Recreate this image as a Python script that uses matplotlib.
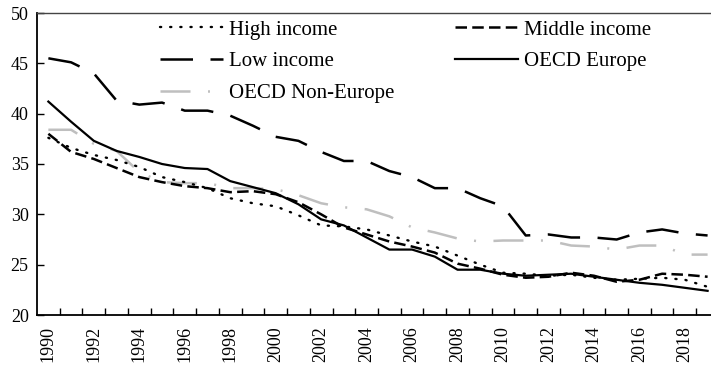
import matplotlib
matplotlib.use("Agg")
import matplotlib.pyplot as plt

plt.rcParams['font.family'] = ['Liberation Serif', 'DejaVu Serif']

years = list(range(1990, 2020))

high_income = [37.6, 36.6, 35.9, 35.4, 34.7, 33.7, 33.2, 32.6, 31.6, 31.1,
               30.8, 29.9, 28.9, 28.8, 28.5, 27.9, 27.3, 26.8, 25.9, 25.0,
               24.2, 24.1, 23.9, 24.0, 23.7, 23.5, 23.6, 23.7, 23.5, 22.8]

middle_income = [38.0, 36.2, 35.5, 34.6, 33.7, 33.2, 32.8, 32.6, 32.2, 32.3,
                 32.0, 31.2, 30.0, 28.7, 28.0, 27.3, 26.8, 26.2, 25.1, 24.6,
                 24.0, 23.7, 23.8, 24.2, 23.9, 23.3, 23.5, 24.1, 24.0, 23.8]

low_income = [45.5, 45.1, 44.0, 41.3, 40.9, 41.1, 40.3, 40.3, 39.8, 38.8,
              37.7, 37.3, 36.2, 35.3, 35.3, 34.3, 33.7, 32.6, 32.6, 31.6,
              30.8, 27.9, 28.0, 27.7, 27.7, 27.5, 28.2, 28.5, 28.1, 27.9]

oecd_europe = [41.2, 39.2, 37.3, 36.3, 35.7, 35.0, 34.6, 34.5, 33.3, 32.7,
               32.1, 31.0, 29.5, 28.9, 27.7, 26.5, 26.5, 25.8, 24.5, 24.5,
               24.1, 23.9, 24.0, 24.1, 23.8, 23.5, 23.2, 23.0, 22.7, 22.4]

oecd_non_europe = [38.4, 38.4, 37.0, 36.3, 34.2, 33.2, 33.1, 33.1, 32.6, 32.6,
                   32.5, 31.9, 31.1, 30.7, 30.5, 29.8, 28.7, 28.2, 27.6, 27.3,
                   27.4, 27.4, 27.4, 26.9, 26.8, 26.5, 26.9, 26.9, 26.0, 26.0]

fig = plt.figure(figsize=(7.11, 3.67), dpi=100)
ax = fig.add_axes([37 / 711, 1 - 315 / 367, 1 - 37 / 711, (315 - 13) / 367])

styles = {
    "High income": dict(color="black", lw=1.7, linestyle=(0, (0.5, 3.8)),
                        dash_capstyle="round"),
    "Middle income": dict(color="black", lw=1.8, linestyle=(0, (4.6, 2.1))),
    "Low income": dict(color="black", lw=1.8, linestyle=(0, (13.0, 7.0))),
    "OECD Europe": dict(color="black", lw=1.6, linestyle="-"),
    "OECD Non-Europe": dict(color="#bfbfbf", lw=1.8,
                            linestyle=(0, (12.0, 7.0, 0.8, 7.0))),
}
series = {
    "High income": high_income,
    "Middle income": middle_income,
    "Low income": low_income,
    "OECD Europe": oecd_europe,
    "OECD Non-Europe": oecd_non_europe,
}

handles = {}
for name in ["OECD Non-Europe", "Low income", "High income", "Middle income", "OECD Europe"]:
    (h,) = ax.plot(years, series[name], label=name, **styles[name])
    handles[name] = h

ax.set_ylim(20, 50)
ax.set_xlim(1989.5, 2019.15)
ax.set_yticks(range(20, 51, 5))

# boundaries between years carry the tick marks, labels sit on every other year
ax.set_xticks([y + 0.5 for y in years[:-1]])
ax.set_xticklabels([])
ax.set_xticks(years[::2], minor=True)
ax.set_xticklabels([str(y) for y in years[::2]], minor=True, rotation=90)
ax.tick_params(axis="x", which="major", direction="in", length=5, width=1.0)
ax.tick_params(axis="x", which="minor", length=0, pad=8, labelsize=13)
ax.tick_params(axis="y", direction="in", length=5, width=1.0, pad=6, labelsize=13)

for side in ["left", "bottom"]:
    ax.spines[side].set_linewidth(1.3)
ax.spines["top"].set_linewidth(1.0)
ax.spines["top"].set_color("#444444")
ax.spines["right"].set_visible(False)

leg_kw = dict(frameon=False, fontsize=15, handlelength=3.0, handletextpad=0.3,
              labelspacing=0.58, borderpad=0, borderaxespad=0, loc="upper left")
col1 = ["High income", "Low income", "OECD Non-Europe"]
col2 = ["Middle income", "OECD Europe"]
fig.legend([handles[n] for n in col1], col1,
           bbox_to_anchor=(160 / 711, 1 - 20 / 367), **leg_kw)
fig.legend([handles[n] for n in col2], col2,
           bbox_to_anchor=(455 / 711, 1 - 20 / 367), **leg_kw)

fig.savefig("out.png", dpi=100)
